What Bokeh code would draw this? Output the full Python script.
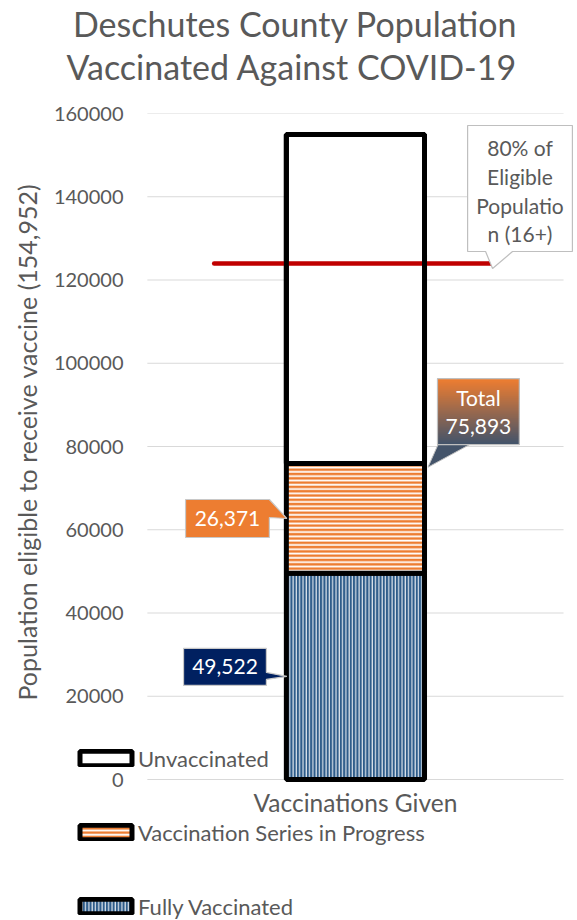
from bokeh.plotting import figure
from bokeh.models import Range1d, FixedTicker, Legend, LegendItem, Title, NumeralTickFormatter
from bokeh.core.properties import value
from bokeh.embed import file_html
from bokeh.resources import INLINE

# ---------------- data ----------------
category = ["Vaccinations Given"]
series_names = ["Unvaccinated", "Vaccination Series in Progress", "Fully Vaccinated"]
fully_vaccinated = [49522]
in_progress = [26371]
eligible_population = [154952]
target_share = 0.80
y_ticks = [0, 20000, 40000, 60000, 80000, 100000, 120000, 140000, 160000]
title_lines = ["Deschutes County Population", "Vaccinated Against COVID-19"]
y_label = "Population eligible to receive vaccine (154,952)"
target_text = ["80% of", "Eligible", "Populatio", "n (16+)"]
total_text = "Total"

# ---------------- derived ----------------
total_given = [f + s for f, s in zip(fully_vaccinated, in_progress)]
target_value = target_share * eligible_population[0]

FONT = value("Lato")
GRAY = "#595959"
W, H = 577, 920
FRAME_L, FRAME_R, FRAME_T, FRAME_B = 70, 573, 113, 920   # drawing frame (includes legend area)
AREA_L, AREA_R, ZERO_Y = 146, 563, 779                   # chart plot area (grid extent)
PX_PER_X = float(AREA_R - AREA_L)
Y_MAX = 160000
PX_PER_Y = (ZERO_Y - FRAME_T) / Y_MAX

def dx(px):
    return px / PX_PER_X

def dy(px):
    return px / PX_PER_Y

x_range = Range1d(-dx(AREA_L - FRAME_L), dx(FRAME_R - AREA_L))
y_range = Range1d(-dy(FRAME_B - ZERO_Y), Y_MAX)

p = figure(width=W, height=H, x_range=x_range, y_range=y_range,
           output_backend="svg", toolbar_location=None, x_axis_location=None,
           min_border_left=FRAME_L, min_border_right=W - FRAME_R,
           min_border_top=FRAME_T, min_border_bottom=0)
p.outline_line_color = None
p.background_fill_color = "white"
p.border_fill_color = "white"
p.xgrid.visible = False
p.ygrid.visible = False

cx = [0.5]
BAR_W = 0.332

# y axis (labels pulled right so that they sit just left of the plot area)
p.yaxis.ticker = FixedTicker(ticks=y_ticks)
p.yaxis.formatter = NumeralTickFormatter(format="0")
p.yaxis.axis_line_color = None
p.yaxis.major_tick_line_color = None
p.yaxis.minor_tick_line_color = None
p.yaxis.major_tick_out = 0
p.yaxis.major_tick_in = 0
p.yaxis.major_label_standoff = -(AREA_L - 24 - FRAME_L)
p.yaxis.major_label_text_font = "Lato"
p.yaxis.major_label_text_font_size = "20px"
p.yaxis.major_label_text_color = GRAY

# y axis title
p.add_layout(Title(text=y_label, align="left", offset=FRAME_B - 700, text_font="Lato",
                   text_font_size="25px", text_font_style="normal", text_color=GRAY,
                   standoff=18), "left")

# horizontal grid lines across the plot area
p.segment(x0=[0] * len(y_ticks), x1=[1] * len(y_ticks), y0=y_ticks, y1=y_ticks,
          line_color="#D9D9D9", line_width=1)

# category label under the bar
p.text(x=cx, y=[0], text=category, text_align="center", text_baseline="middle", y_offset=23,
       text_font=FONT, text_font_size="24.5px", text_color=GRAY)

# bars
r_full = p.vbar(x=cx, width=BAR_W, bottom=[0], top=fully_vaccinated,
                fill_color="#2E5C8A", hatch_pattern="|", hatch_color="white",
                hatch_weight=1.0, hatch_scale=3.3, line_color="black", line_width=5)
r_prog = p.vbar(x=cx, width=BAR_W, bottom=fully_vaccinated, top=total_given,
                fill_color="#ED7D31", hatch_pattern="-", hatch_color="white",
                hatch_weight=1.8, hatch_scale=4.3, line_color="black", line_width=5)
r_unv = p.vbar(x=cx, width=BAR_W, bottom=total_given, top=eligible_population,
               fill_color="white", line_color="black", line_width=5)

# 80% target line
TARGET_HALF = 0.3345
tx0, tx1 = cx[0] - 0.005 - TARGET_HALF, cx[0] - 0.005 + TARGET_HALF
p.line(x=[tx0, tx1], y=[target_value, target_value], line_color="#C00000", line_width=4.5, line_cap="round")
p.vbar(x=cx, width=BAR_W, bottom=total_given, top=eligible_population,
       fill_alpha=0, line_color="black", line_width=5)

bar_left = cx[0] - BAR_W / 2
bar_right = cx[0] + BAR_W / 2

# --- 80% callout ---
L, R = tx1 + dx(-25), tx1 + dx(80)
B, T = target_value + dy(12), target_value + dy(138)
p.patch(x=[L, R, R, tx1 + dx(20), tx1, tx1 + dx(-7), L],
        y=[T, T, B, B, target_value - dy(5), B, B],
        fill_color="white", line_color="#BFBFBF", line_width=1.2)
offs = [116, 87, 58.5, 30]
p.text(x=[(L + R) / 2] * 4, y=[target_value + dy(o) for o in offs], text=target_text,
       text_align="center", text_baseline="middle", text_font=FONT,
       text_font_size="21px", text_color=GRAY)

# --- Total callout (gradient) ---
tot = total_given[0]
L, R = bar_right + dx(13), bar_right + dx(95)
B, T = tot + dy(19), tot + dy(85)
c_top = (0xED, 0x7D, 0x31)
c_bot = (0x44, 0x54, 0x6A)
p.patch(x=[bar_right + dx(14), bar_right + dx(3.5), bar_right + dx(47)],
        y=[B + dy(1), tot - dy(3.6), B + dy(1)], fill_color="#44546A", line_color="#BFBFBF", line_width=1)
N = 33
lefts, rights, bottoms, tops, cols = [], [], [], [], []
for i in range(N):
    f = i / (N - 1)
    c = tuple(int(round(c_top[k] * (1 - f) + c_bot[k] * f)) for k in range(3))
    lefts.append(L); rights.append(R)
    tops.append(T - (T - B) * i / N)
    bottoms.append(T - (T - B) * (i + 1) / N - dy(0.3))
    cols.append("#%02x%02x%02x" % c)
p.quad(left=lefts, right=rights, bottom=bottoms, top=tops, fill_color=cols, line_color=None)
p.quad(left=[L], right=[R], bottom=[B], top=[T], fill_alpha=0, line_color="#BFBFBF", line_width=1.2)
p.text(x=[(L + R) / 2] * 2, y=[tot + dy(66), tot + dy(37)],
       text=[total_text, f"{tot:,}"], text_align="center", text_baseline="middle",
       text_font=FONT, text_font_size="21px", text_color="white")

# --- in-progress callout ---
mid = fully_vaccinated[0] + in_progress[0] / 2
L, R = bar_left - dx(101), bar_left - dx(17)
T, B = mid + dy(19), mid - dy(19)
p.patch(x=[L, R, bar_left + dx(0.5), R, R, L], y=[T, T, mid, mid + dy(1), B, B],
        fill_color="#ED7D31", line_color="#C8C8C8", line_width=1.2)
p.text(x=[(L + R) / 2], y=[mid], text=[f"{in_progress[0]:,}"], text_align="center",
       text_baseline="middle", text_font=FONT, text_font_size="21px", text_color="white")

# --- fully vaccinated callout ---
mid = fully_vaccinated[0] / 2
L, R = bar_left - dx(103), bar_left - dx(20)
T, B = mid + dy(28), mid - dy(9)
p.patch(x=[L, R, R, bar_left + dx(0.5), R, R, L], y=[T, T, mid + dy(4), mid, mid - dy(3), B, B],
        fill_color="#002060", line_color="#C8C8C8", line_width=1.2)
p.text(x=[(L + R) / 2], y=[mid + dy(9.5)], text=[f"{fully_vaccinated[0]:,}"], text_align="center",
       text_baseline="middle", text_font=FONT, text_font_size="21px", text_color="white")

# legend (inside the frame, bottom-left)
legend = Legend(items=[LegendItem(label=series_names[0], renderers=[r_unv]),
                       LegendItem(label=series_names[1], renderers=[r_prog]),
                       LegendItem(label=series_names[2], renderers=[r_full])],
                location=(2, 0))
legend.background_fill_alpha = 0
legend.border_line_alpha = 0
legend.padding = 0
legend.margin = 0
legend.spacing = 46
legend.glyph_width = 65
legend.glyph_height = 18
legend.label_height = 28
legend.label_standoff = 0
legend.label_text_font = "Lato"
legend.label_text_font_size = "22px"
legend.label_text_color = GRAY
p.add_layout(legend, "center")

# title lines (spacer first, then line 2, then line 1 going upwards)
p.add_layout(Title(text=" ", text_font_size="1px", standoff=24), "above")
for txt, off in zip(reversed(title_lines), [-5, 1.5]):
    p.add_layout(Title(text=txt, align="left", offset=off, text_font="Lato",
                       text_font_size="34px", text_font_style="normal",
                       text_color=GRAY, standoff=0), "above")

open("out.html", "w").write(file_html(p, INLINE))
